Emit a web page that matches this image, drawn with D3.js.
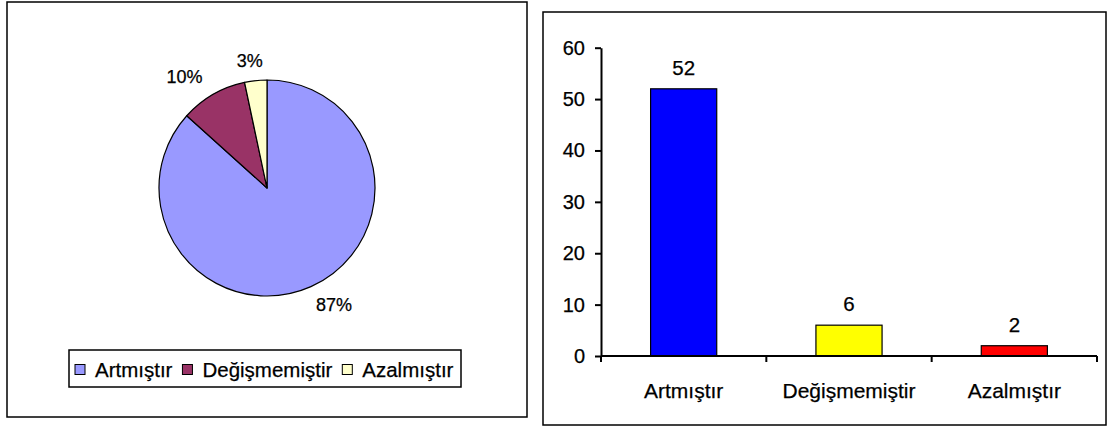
<!DOCTYPE html>
<html>
<head>
<meta charset="utf-8">
<script src="https://cdn.jsdelivr.net/npm/d3@7"></script>
<style>
  html, body { margin: 0; padding: 0; background: #fff; }
  svg { display: block; }
  text { font-family: "Liberation Sans", Arial, sans-serif; fill: #000; stroke: #000; stroke-width: 0.25px; }
</style>
</head>
<body>
<svg id="chart" width="1108" height="426"></svg>
<script>
// ---- data ----
const categories = ["Artmıştır", "Değişmemiştir", "Azalmıştır"];
const counts = [52, 6, 2];
const yTicks = [0, 10, 20, 30, 40, 50, 60];
const pieColors = ["#9999FF", "#993366", "#FFFFCC"];
const barColors = ["#0000FF", "#FFFF00", "#FF0000"];

const svg = d3.select("#chart");
const total = d3.sum(counts);
const pctLabels = counts.map(v => Math.round(v / total * 100) + "%");

// ---- panel frames ----
svg.append("rect").attr("x", 7).attr("y", 2).attr("width", 520).attr("height", 415)
  .attr("fill", "#fff").attr("stroke", "#000").attr("stroke-width", 1.5);
svg.append("rect").attr("x", 543).attr("y", 12).attr("width", 563).attr("height", 413)
  .attr("fill", "#fff").attr("stroke", "#000").attr("stroke-width", 1.5);

// ---- pie ----
const cx = 267, cy = 188, r = 108;
const pie = d3.pie().sort(null).value(d => d)(counts);
const arc = d3.arc().innerRadius(0).outerRadius(r);
const gPie = svg.append("g").attr("transform", `translate(${cx},${cy})`);
gPie.selectAll("path").data(pie).join("path")
  .attr("d", arc)
  .attr("fill", (d, i) => pieColors[i])
  .attr("stroke", "#000").attr("stroke-width", 1.2).attr("stroke-linejoin", "round");
const labRx = 165, labRy = 128;
gPie.selectAll("text").data(pie).join("text")
  .attr("x", d => Math.sin((d.startAngle + d.endAngle) / 2) * labRx)
  .attr("y", d => -Math.cos((d.startAngle + d.endAngle) / 2) * labRy)
  .attr("text-anchor", "middle").attr("dominant-baseline", "central")
  .attr("font-size", 18)
  .text((d, i) => pctLabels[i]);

// ---- legend ----
svg.append("rect").attr("x", 69).attr("y", 350).attr("width", 392).attr("height", 37)
  .attr("fill", "#fff").attr("stroke", "#000").attr("stroke-width", 1.5);
const gLeg = svg.append("g");
let lx = 75;
categories.forEach((c, i) => {
  gLeg.append("rect").attr("x", lx).attr("y", 364.5).attr("width", 10).attr("height", 10)
    .attr("fill", pieColors[i]).attr("stroke", "#000").attr("stroke-width", 1);
  const t = gLeg.append("text").attr("x", lx + 20).attr("y", 377).attr("font-size", 20.5).text(c);
  lx = lx + 20 + t.node().getComputedTextLength() + 10;
});

// ---- bar chart ----
const x0 = 601, x1 = 1097, yTop = 47.7, yBot = 356;
const x = d3.scaleBand().domain(categories).range([x0, x1]).paddingInner(0.6).paddingOuter(0.3);
const y = d3.scaleLinear().domain([0, 60]).range([yBot, yTop]);

svg.append("g").selectAll("rect").data(counts).join("rect")
  .attr("x", (d, i) => x(categories[i]))
  .attr("y", d => y(d))
  .attr("width", x.bandwidth())
  .attr("height", d => y(0) - y(d))
  .attr("fill", (d, i) => barColors[i])
  .attr("stroke", "#000").attr("stroke-width", 1.2);

// y axis
const yAxis = svg.append("g").attr("transform", `translate(${x0},0)`)
  .call(d3.axisLeft(y).tickValues(yTicks).tickSize(6).tickPadding(10).tickSizeOuter(0));
yAxis.select(".domain").attr("stroke-width", 2);
yAxis.selectAll(".tick line").attr("stroke-width", 2);
yAxis.selectAll(".tick text").attr("font-size", 20).attr("font-family", "Liberation Sans, Arial, sans-serif").attr("fill", "#000");

// x axis with ticks at band boundaries
const xAxis = svg.append("g").attr("transform", `translate(0,${yBot})`);
xAxis.append("line").attr("x1", x0).attr("x2", x1).attr("y1", 0).attr("y2", 0)
  .attr("stroke", "#000").attr("stroke-width", 2);
const bounds = [x0].concat(categories.map(c => x(c) + x.bandwidth() / 2 + x.step() / 2));
xAxis.selectAll("line.tk").data(bounds).join("line").attr("class", "tk")
  .attr("x1", d => d).attr("x2", d => d).attr("y1", 0).attr("y2", 6)
  .attr("stroke", "#000").attr("stroke-width", 2);
xAxis.selectAll("text").data(categories).join("text")
  .attr("x", d => x(d) + x.bandwidth() / 2)
  .attr("y", 42)
  .attr("text-anchor", "middle").attr("font-size", 21)
  .text(d => d);

// value labels
svg.append("g").selectAll("text").data(counts).join("text")
  .attr("x", (d, i) => x(categories[i]) + x.bandwidth() / 2)
  .attr("y", d => y(d) - 14)
  .attr("text-anchor", "middle").attr("font-size", 20.5)
  .text(d => d);
</script>
</body>
</html>
